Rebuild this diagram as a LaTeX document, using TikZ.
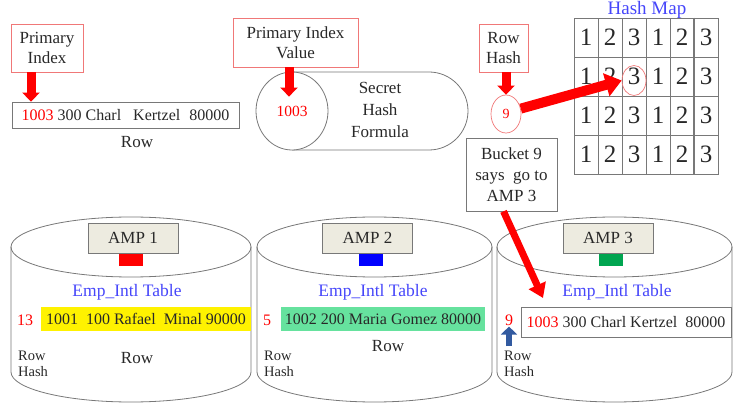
\documentclass[tikz,border=0pt]{standalone}
\usepackage{fontspec}
\setmainfont{Liberation Serif}
\usetikzlibrary{shapes.geometric,arrows.meta,positioning}
\definecolor{txt}{RGB}{40,40,40}
\definecolor{boxred}{RGB}{240,120,120}
\definecolor{edge}{RGB}{120,120,120}
\definecolor{ampfill}{RGB}{237,235,224}
\definecolor{tblue}{RGB}{70,70,250}
\definecolor{mint}{RGB}{102,226,158}
\definecolor{ampgreen}{RGB}{0,165,80}
\definecolor{steel}{RGB}{50,90,160}
\begin{document}
\begin{tikzpicture}[x=1pt,y=-1pt,
  lbl/.style={draw=boxred,line width=0.6pt,align=center,text=txt,
    font=\fontsize{17}{20}\selectfont,inner sep=1pt},
  rowbox/.style={draw=edge,line width=0.7pt,text=txt,inner sep=1pt,
    font=\fontsize{16}{18}\selectfont},
  amp/.style={draw=edge,fill=ampfill,line width=0.7pt,text=txt,
    minimum width=90pt,minimum height=30pt,font=\fontsize{17}{18}\selectfont},
  disk/.style={minimum width=24pt,minimum height=12pt,inner sep=0pt,anchor=north},
  cyl/.style={draw=edge,line width=0.8pt},
  cell/.style={draw=edge,line width=0.7pt,minimum width=24pt,minimum height=39pt,
    inner sep=0pt,text=txt,font=\fontsize{25}{26}\selectfont},
  redarrow/.style={red,line width=9pt,-{Triangle[width=17pt,length=9pt]}},
  plain/.style={text=txt,font=\fontsize{17}{18}\selectfont,inner sep=1pt},
  small/.style={text=txt,align=left,anchor=west,inner sep=0pt,
    font=\fontsize{14.5}{15.5}\selectfont},
  tbl/.style={text=tblue,font=\fontsize{17.5}{18}\selectfont}]
\useasboundingbox (0,0) rectangle (740,414);

% top left: primary index and row
\node[lbl,minimum width=72pt,minimum height=48pt] (pi) at (47,48) {Primary\\Index};
\node[rowbox,minimum width=227pt,minimum height=26pt] (toprow) at (125.5,115)
  {{\color{red}1003} 300 Charl\hspace{12pt}Kertzel\hspace{9pt}80000};
\node[plain] (toprowlbl) at (137,142) {Row};
\draw[redarrow] ([xshift=-16pt]pi.south) -- ([xshift=-16pt]pi.south |- toprow.north);

% hash formula
\node[lbl,minimum width=125pt,minimum height=49pt] (piv) at (295.5,42.5) {Primary Index\\Value};
\draw[cyl] (292,72) -- (429,72) .. controls (450.5,72) and (468,89.5) .. (468,111)
  .. controls (468,132.5) and (450.5,150) .. (429,150) -- (292,150);
\node[ellipse,draw=edge,line width=0.8pt,fill=white,minimum width=72pt,minimum height=78pt,
  text=red,font=\fontsize{15.5}{16}\selectfont] (hashin) at (292,111) {1003};
\node[text=txt,align=center,font=\fontsize{17}{22}\selectfont] (formula) at (380,110)
  {Secret\\Hash\\Formula};
\draw[redarrow] ([xshift=-6.5pt]piv.south) -- ([xshift=-3pt,yshift=-25pt]hashin.north);

% row hash
\node[lbl,minimum width=49pt,minimum height=48pt] (rh) at (503.5,48) {Row\\Hash};
\node[ellipse,draw=boxred,line width=0.7pt,minimum width=30pt,minimum height=38pt,inner sep=0pt,
  text=red,font=\fontsize{14}{14}\selectfont] (nine) at (506,114) {9};
\draw[redarrow] (rh.south -| nine.north) -- (nine.north);

% hash map
\node[text=tblue,anchor=base,font=\fontsize{19}{20}\selectfont] (hmap) at (647,14.5) {Hash Map};
\foreach \r in {1,...,4}
  \foreach \c/\v in {1/1,2/2,3/3,4/1,5/2,6/3}
    \node[cell] (cell-\r-\c) at (562+24*\c,-1.5+39*\r) {\v};
\draw[edge,line width=1.8pt] (cell-1-6.north west) -- (cell-4-6.south west);
\node[ellipse,draw=boxred,line width=0.7pt,minimum width=24pt,minimum height=30pt,inner sep=0pt]
  (c3) at ([yshift=-4pt]cell-2-3) {};
\draw[red,line width=10pt,-{Triangle[width=23pt,length=16pt]}] (nine.20) -- (c3.west);

% bucket note
\node[draw=edge,line width=0.7pt,minimum width=91pt,minimum height=73pt,align=center,text=txt,
  font=\fontsize{17}{21}\selectfont,inner sep=1pt] (bucket) at (511.5,174.5)
  {Bucket 9\\says\ \ go to\\AMP 3};

% the three AMPs
\foreach \cx/\rx in {131/120,374.5/117.5,614.5/117.5} {
  \draw[cyl,fill=white] (\cx,247) ellipse [x radius=\rx pt,y radius=30pt];
  \draw[cyl] (\cx-\rx,247) -- (\cx-\rx,372)
    .. controls (\cx-\rx,388.6) and (\cx-0.5523*\rx,402) .. (\cx,402)
    .. controls (\cx+0.5523*\rx,402) and (\cx+\rx,388.6) .. (\cx+\rx,372) -- (\cx+\rx,247);
}
\node[amp] (amp1) at (133,238) {AMP 1};
\node[amp] (amp2) at (367.5,238) {AMP 2};
\node[amp] (amp3) at (608,238) {AMP 3};
\node[disk,fill=red] (disk1) at ([xshift=-2pt]amp1.south) {};
\node[disk,fill=blue] (disk2) at ([xshift=3pt]amp2.south) {};
\node[disk,fill=ampgreen] (disk3) at ([xshift=2.5pt]amp3.south) {};
\node[tbl] (tbl1) at (127,292) {Emp\_Intl Table};
\node[tbl] (tbl2) at (373,292) {Emp\_Intl Table};
\node[tbl] (tbl3) at (617,292) {Emp\_Intl Table};

% rows on the AMPs
\node[rowbox,fill=yellow,draw=none,minimum width=210pt,minimum height=24pt] (row1) at (146,319)
  {1001\ \ 100 Rafael\ \ Minal 90000};
\node[rowbox,fill=mint,draw=none,minimum width=204pt,minimum height=24pt] (row2) at (383,319)
  {1002 200 Maria Gomez 80000};
\node[rowbox,minimum width=210pt,minimum height=30pt] (row3) at (626,322)
  {{\color{red}1003} 300 Charl Kertzel\ \ 80000};
\node[text=red,font=\fontsize{16}{16}\selectfont,inner sep=1pt] (hash1) at (25,320) {13};
\node[text=red,font=\fontsize{16}{16}\selectfont,inner sep=1pt] (hash2) at (267,320) {5};
\node[text=red,font=\fontsize{16}{16}\selectfont,inner sep=1pt] (hash3) at (509,320) {9};
\node[small] (rhash1) at (18,364) {Row\\Hash};
\node[small] (rhash2) at (264,364) {Row\\Hash};
\node[small] (rhash3) at (504,364) {Row\\Hash};
\node[plain] (rowlbl1) at (137,358) {Row};
\node[plain] (rowlbl2) at (388,346) {Row};
\draw[steel,line width=6pt,-{Triangle[width=16pt,length=8pt]}]
  ([yshift=5pt]hash3.south |- rhash3.north) -- (hash3.south);

\coordinate (tip3) at (543,298);
\draw[red,line width=7pt,-{Triangle[width=18pt,length=14pt]}] ([xshift=-8pt]bucket.south) -- (tip3);
\end{tikzpicture}
\end{document}
